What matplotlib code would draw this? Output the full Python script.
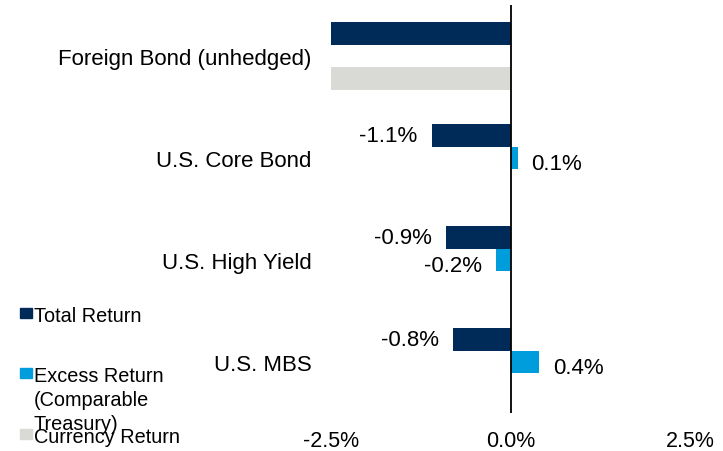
import numpy as np
import matplotlib.pyplot as plt
from matplotlib.patches import Rectangle

categories = ["Foreign Bond (unhedged)", "U.S. Core Bond", "U.S. High Yield", "U.S. MBS"]
total_return = [-2.5, -1.1, -0.9, -0.8]
excess_return = [np.nan, 0.1, -0.2, 0.4]
currency_return = [-2.5, np.nan, np.nan, np.nan]
show_labels = [False, True, True, True]

series = [
    ("Total Return", total_return, "#002A57"),
    ("Excess Return\n(Comparable\nTreasury)", excess_return, "#009DDC"),
    ("Currency Return", currency_return, "#D9D9D6"),
]

plt.rcParams["font.family"] = ["Liberation Sans", "DejaVu Sans"]

W, H = 723, 452
fig = plt.figure(figsize=(W / 100, H / 100), dpi=100)
ax = fig.add_axes([331 / W, 1 - 414 / H, (690 - 331) / W, (414 - 6) / H])

y = np.arange(len(categories))
h = 0.22
offsets = [-h, 0, h]
label_drop = [0, -4, 0]  # excess labels sit a bit below their bars

for (name, vals, color), off, drop in zip(series, offsets, label_drop):
    vals = np.array(vals, dtype=float)
    ax.barh(y + off, vals, height=h, color=color, zorder=2)
    for yi, v, lab in zip(y, vals, show_labels):
        if np.isnan(v) or not lab:
            continue
        ax.annotate(f"{v:.1f}%", (v, yi + off), xytext=(10 if v > 0 else -10, drop),
                    textcoords="offset points", ha="left" if v > 0 else "right",
                    va="center", fontsize=16)

ax.axvline(0, color="black", lw=1.3, zorder=3)
ax.set_xlim(-2.5, 2.5)
ax.set_ylim(len(categories) - 0.5, -0.5)
ax.set_xticks([-2.5, 0, 2.5])
ax.set_xticklabels(["-2.5%", "0.0%", "2.5%"])
ax.set_yticks(y)
ax.set_yticklabels(categories)
ax.tick_params(axis="x", length=0, pad=12, labelsize=15.5)
ax.tick_params(axis="y", length=0, pad=14, labelsize=16)
for s in ax.spines.values():
    s.set_visible(False)

# legend drawn by hand so the wrapped label overlaps like the original
legend_y = [314, 374, 435]
for (name, vals, color), ly in zip(series, legend_y):
    fig.patches.append(Rectangle((20 / W, 1 - (ly + 5) / H), 12 / W, 10 / H,
                                 transform=fig.transFigure, color=color, figure=fig))
    fig.text(34 / W, 1 - (ly - 7) / H, name, fontsize=14.3, va="top", ha="left",
             linespacing=1.35)

fig.savefig("out.png", dpi=100)
